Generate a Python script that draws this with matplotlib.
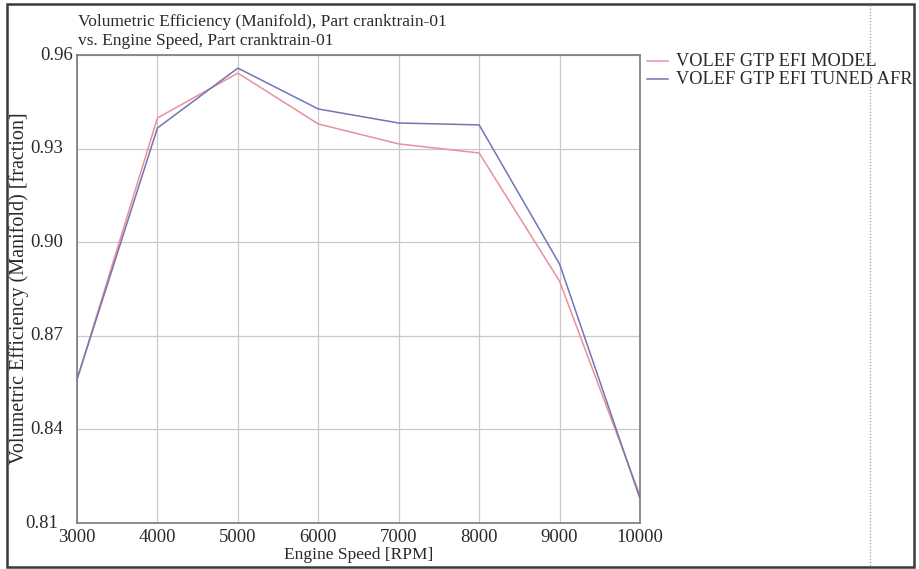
import matplotlib
matplotlib.use("Agg")
import matplotlib.pyplot as plt
from matplotlib.lines import Line2D
from matplotlib.patches import Rectangle
from matplotlib.transforms import blended_transform_factory

plt.rcParams['font.family'] = ['Liberation Serif', 'DejaVu Serif']

# Engine speed sweep and volumetric efficiency results
engine_speed = [3000, 4000, 5000, 6000, 7000, 8000, 9000, 10000]
volef_model = [0.856, 0.9398, 0.9542, 0.9379, 0.9315, 0.9286, 0.8875, 0.8188]
volef_tuned = [0.856, 0.9366, 0.9558, 0.9427, 0.9382, 0.9376, 0.8930, 0.8178]

x_ticks = [3000, 4000, 5000, 6000, 7000, 8000, 9000, 10000]
y_ticks = [0.81, 0.84, 0.87, 0.90, 0.93, 0.96]
y_tick_labels = ["0.81", "0.84", "0.87", "0.90", "0.93", "0.96"]

series_labels = ["VOLEF GTP EFI MODEL", "VOLEF GTP EFI TUNED AFR"]
series_colors = ["#ea8f9c", "#7175b5"]

W, H = 919, 569
TXT = "#2a2a2a"
fig = plt.figure(figsize=(W / 100, H / 100), dpi=100)

def fx(px):
    return px / W

def fy(py):
    return 1 - py / H

ax = fig.add_axes([fx(77), fy(523), fx(640) - fx(77), fy(55) - fy(523)])

ax.plot(engine_speed, volef_model, color=series_colors[0], lw=1.1)
ax.plot(engine_speed, volef_tuned, color=series_colors[1], lw=1.1)

ax.set_xlim(3000, 10000)
ax.set_ylim(0.81, 0.96)
ax.set_xticks(x_ticks)
ax.set_yticks(y_ticks)
ax.set_yticklabels([])
ax.grid(True, color="#c8c8d0", lw=0.9)
ax.tick_params(length=0, labelsize=13.5, colors=TXT, pad=4)
for s in ax.spines.values():
    s.set_color("#7a7a7a")
    s.set_linewidth(1.2)

# y tick labels: the end labels sit a little apart from the inner ones
ytrans = blended_transform_factory(fig.transFigure, ax.transData)
label_right = {0.81: 58, 0.96: 73}
for v, lab in zip(y_ticks, y_tick_labels):
    xr = label_right.get(v, 63)
    ax.text(fx(xr), v, lab, transform=ytrans, ha="right", va="center",
            fontsize=13.5, color=TXT)

ax.set_xlabel("Engine Speed [RPM]", fontsize=12.5, color=TXT, labelpad=1)
fig.text(fx(19), fy(288), "Volumetric Efficiency (Manifold) [fraction]",
         rotation=90, ha="center", va="center", fontsize=14.5, color=TXT)

# Two-line title above the plot
fig.text(fx(78), fy(22), "Volumetric Efficiency (Manifold), Part cranktrain-01",
         fontsize=12.5, color=TXT, va="center", ha="left")
fig.text(fx(78), fy(41), "vs. Engine Speed, Part cranktrain-01",
         fontsize=12.5, color=TXT, va="center", ha="left")

# Legend entries to the right of the plot
for i, (lab, col) in enumerate(zip(series_labels, series_colors)):
    yy = fy(61 + 18 * i)
    fig.add_artist(Line2D([fx(647), fx(668)], [yy, yy], color=col, lw=1.1))
    fig.text(fx(676), yy, lab, fontsize=13.2, color=TXT, va="center", ha="left")

# Outer frame and divider
fig.add_artist(Rectangle((fx(7), fy(567)), fx(914) - fx(7), fy(4) - fy(567),
                         fill=False, edgecolor="#3a3a3a", lw=1.8))
fig.add_artist(Line2D([fx(870), fx(870)], [fy(5), fy(566)], color="#9a9a9a",
                      lw=0.9, ls=(0, (1, 1.5))))

fig.savefig("out.png", dpi=100)
